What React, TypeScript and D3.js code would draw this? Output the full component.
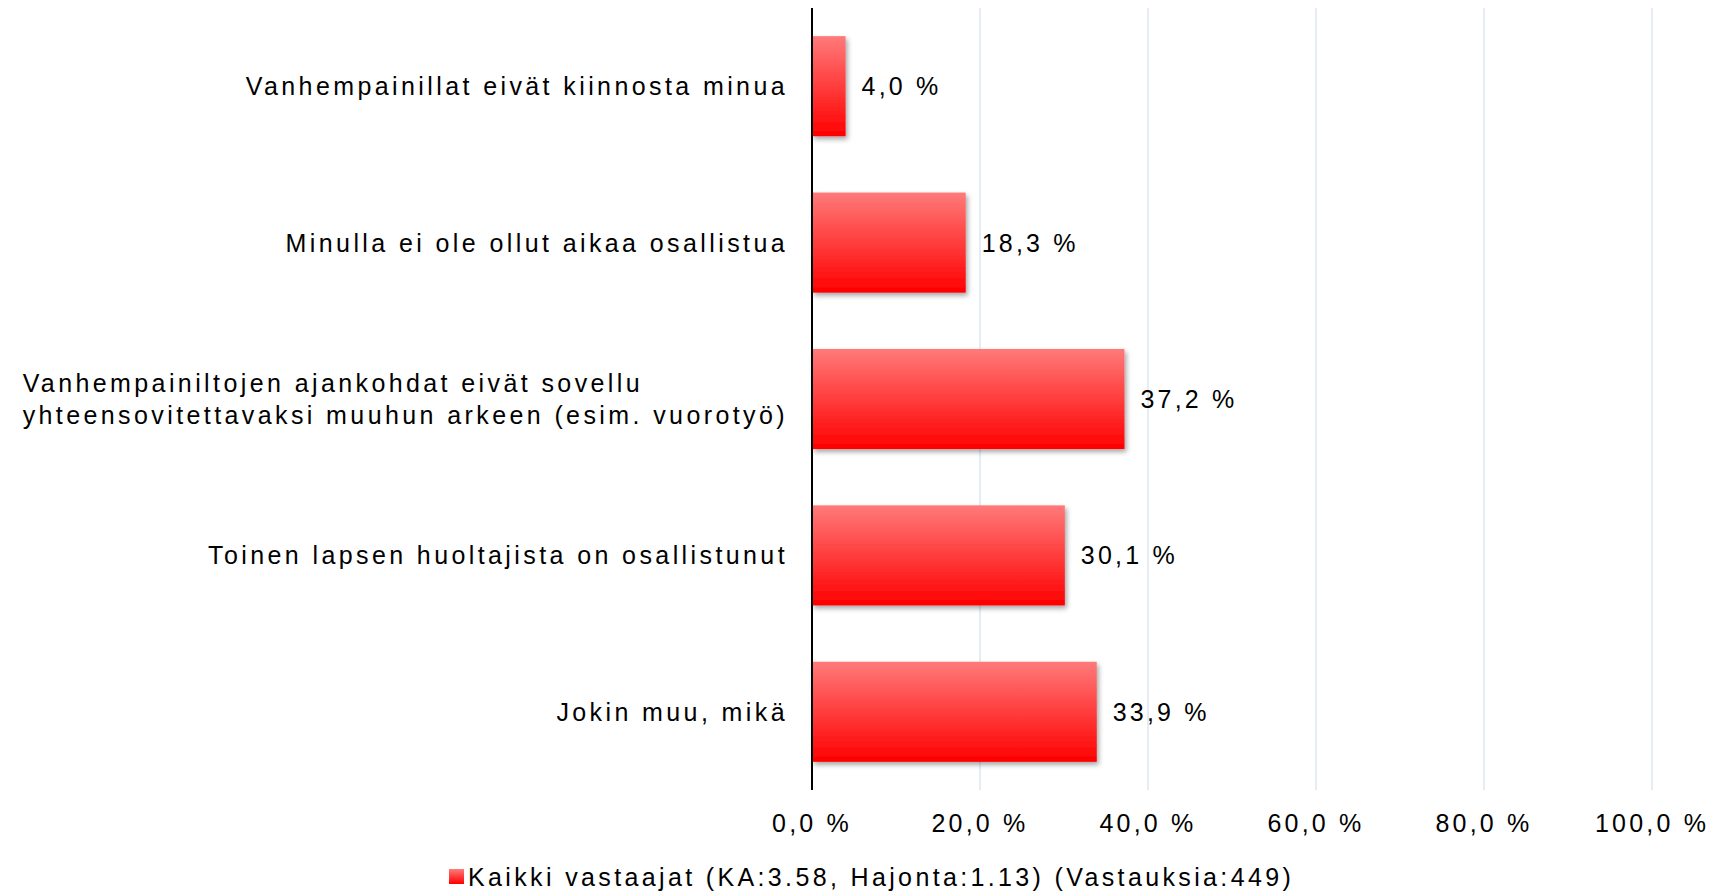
import React, { useRef, useEffect } from "react";
import * as d3 from "d3";

const categories = [
  ["Vanhempainillat eivät kiinnosta minua"],
  ["Minulla ei ole ollut aikaa osallistua"],
  ["Vanhempainiltojen ajankohdat eivät sovellu", "yhteensovitettavaksi muuhun arkeen (esim. vuorotyö)"],
  ["Toinen lapsen huoltajista on osallistunut"],
  ["Jokin muu, mikä"],
];
const values = [4.0, 18.3, 37.2, 30.1, 33.9];
const ticks = [0, 20, 40, 60, 80, 100];
const legendLabel = "Kaikki vastaajat (KA:3.58, Hajonta:1.13) (Vastauksia:449)";

const fmt = (v: number) => v.toFixed(1).replace(".", ",") + " %";

const App = () => {
  const svgRef = useRef<SVGSVGElement>(null);

  useEffect(() => {
    const width = 1716;
    const height = 894;
    const margin = { top: 8, left: 812, right: 64, bottom: 104 };

    const svg = d3.select(svgRef.current).attr("width", width).attr("height", height);
    svg.selectAll("*").remove();

    const font = "'Liberation Sans', Arial, sans-serif";

    const defs = svg.append("defs");
    const grad = defs
      .append("linearGradient")
      .attr("id", "barGrad")
      .attr("x1", 0)
      .attr("y1", 0)
      .attr("x2", 0)
      .attr("y2", 1);
    grad.append("stop").attr("offset", "0%").attr("stop-color", "#ff7a7a");
    grad.append("stop").attr("offset", "100%").attr("stop-color", "#ff0000");

    const shadow = defs
      .append("filter")
      .attr("id", "shadow")
      .attr("x", "-10%")
      .attr("y", "-10%")
      .attr("width", "130%")
      .attr("height", "140%");
    shadow
      .append("feDropShadow")
      .attr("dx", 2)
      .attr("dy", 3)
      .attr("stdDeviation", 2.5)
      .attr("flood-color", "#000")
      .attr("flood-opacity", 0.35);

    const x = d3
      .scaleLinear()
      .domain([0, 100])
      .range([margin.left, width - margin.right]);

    const y = d3
      .scaleBand<number>()
      .domain(d3.range(values.length))
      .range([margin.top, height - margin.bottom])
      .paddingInner(0.36)
      .paddingOuter(0.18);

    // gridlines
    svg
      .append("g")
      .selectAll("line")
      .data(ticks.slice(1))
      .join("line")
      .attr("x1", (d) => x(d))
      .attr("x2", (d) => x(d))
      .attr("y1", margin.top)
      .attr("y2", height - margin.bottom)
      .attr("stroke", "#dce6f2")
      .attr("stroke-width", 1.5);

    // bars
    svg
      .append("g")
      .selectAll("rect")
      .data(values)
      .join("rect")
      .attr("x", x(0))
      .attr("y", (_, i) => y(i)!)
      .attr("width", (d) => x(d) - x(0))
      .attr("height", y.bandwidth())
      .attr("fill", "url(#barGrad)")
      .attr("filter", "url(#shadow)");

    // axis line
    svg
      .append("line")
      .attr("x1", x(0))
      .attr("x2", x(0))
      .attr("y1", margin.top)
      .attr("y2", height - margin.bottom)
      .attr("stroke", "#000")
      .attr("stroke-width", 2);

    // value labels
    svg
      .append("g")
      .selectAll("text")
      .data(values)
      .join("text")
      .attr("x", (d) => x(d) + 16)
      .attr("y", (_, i) => y(i)! + y.bandwidth() / 2)
      .attr("dominant-baseline", "central")
      .attr("font-family", font)
      .attr("font-size", 25)
      .attr("letter-spacing", 3.2)
      .attr("fill", "#000")
      .text((d) => fmt(d));

    // category labels: block right-aligned, lines left-aligned inside it
    const lineH = 32;
    const labelRight = x(0) - 24;
    const cat = svg
      .append("g")
      .selectAll("text")
      .data(categories)
      .join("text")
      .attr("font-family", font)
      .attr("font-size", 25)
      .attr("letter-spacing", 3.4)
      .attr("fill", "#000");
    cat.each(function (lines, i) {
      const cy = y(i)! + y.bandwidth() / 2;
      const t = d3.select(this);
      const spans = t
        .selectAll("tspan")
        .data(lines)
        .join("tspan")
        .attr("x", 0)
        .attr("y", (_, j) => cy + (j - (lines.length - 1) / 2) * lineH)
        .attr("dominant-baseline", "central")
        .text((d) => d);
      const w = (this as SVGTextElement).getBBox().width;
      spans.attr("x", labelRight - w);
    });

    // tick labels
    svg
      .append("g")
      .selectAll("text")
      .data(ticks)
      .join("text")
      .attr("x", (d) => x(d))
      .attr("y", 823)
      .attr("text-anchor", "middle")
      .attr("dominant-baseline", "central")
      .attr("font-family", font)
      .attr("font-size", 25)
      .attr("letter-spacing", 3.2)
      .attr("fill", "#000")
      .text((d) => fmt(d));

    // legend
    const legend = svg.append("g").attr("transform", "translate(449,877)");
    legend
      .append("rect")
      .attr("x", 0)
      .attr("y", -8)
      .attr("width", 15)
      .attr("height", 15)
      .attr("fill", "url(#barGrad)");
    legend
      .append("text")
      .attr("x", 19)
      .attr("y", 0)
      .attr("dominant-baseline", "central")
      .attr("font-family", font)
      .attr("font-size", 25)
      .attr("letter-spacing", 3.36)
      .attr("fill", "#000")
      .text(legendLabel);
  }, []);

  return (
    <svg
      ref={svgRef}
      style={{ position: "absolute", left: 0, top: 0, background: "#fff" }}
    ></svg>
  );
};

export default App;
